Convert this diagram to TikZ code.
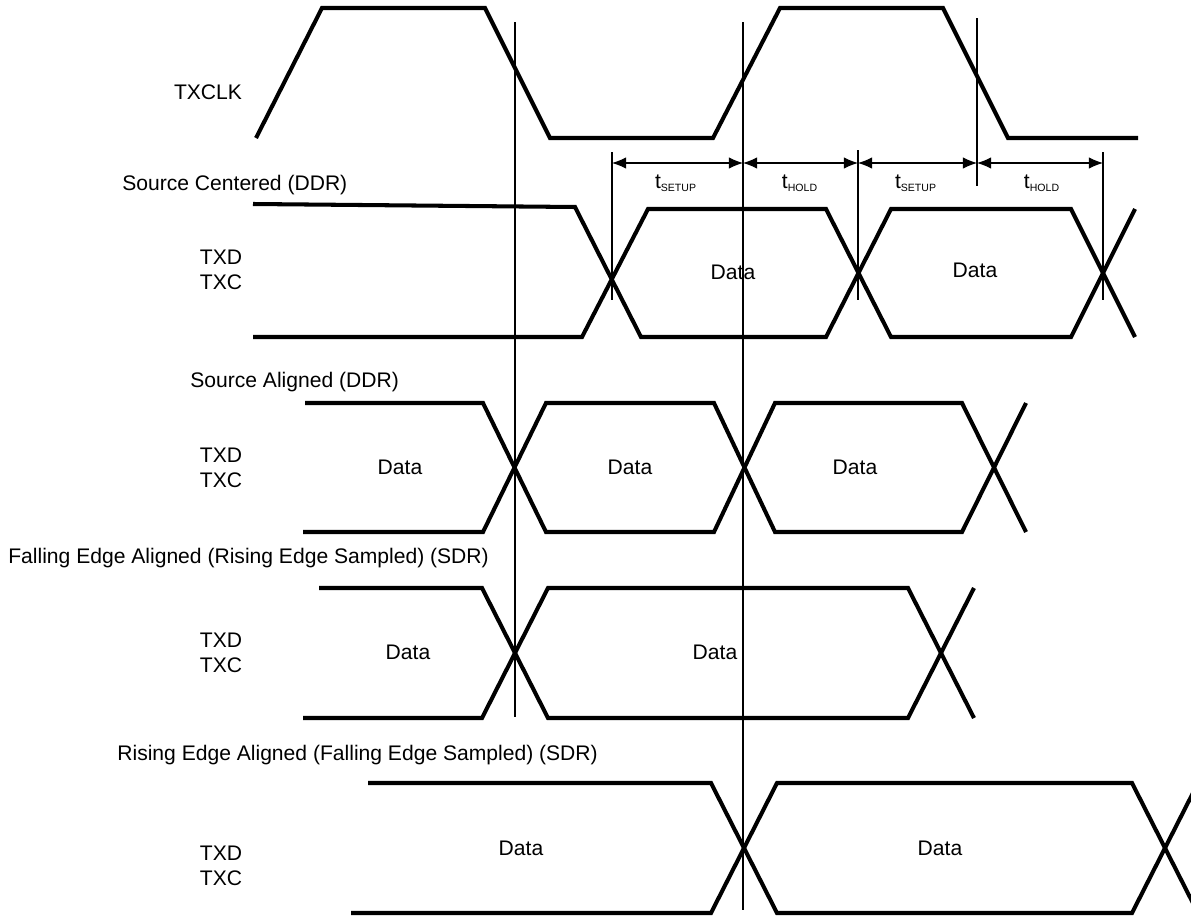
\documentclass[tikz,border=0pt]{standalone}
\usepackage{fontspec}
\setmainfont{Liberation Sans}
\usetikzlibrary{arrows.meta}
\begin{document}
\begin{tikzpicture}[x=0.02cm,y=-0.02cm,>={Latex[length=8pt,width=6.5pt]}]
  \tikzstyle{sig}=[line width=2.3pt, line join=miter]
  \tikzstyle{refline}=[line width=0.6pt]
  \tikzstyle{dim}=[line width=0.6pt, <->]
  \tikzstyle{lbl}=[font=\fontsize{12}{14.5}\selectfont, inner sep=0pt]
  \tikzstyle{signame}=[lbl, align=center]
  \tikzstyle{tlbl}=[lbl, anchor=base]

  \useasboundingbox (0,0) rectangle (1191,916);

  \node[signame] (clk) at (208,92) {TXCLK};
  \draw[sig] (256,138) -- (322,8) -- (485,8) -- (550,138) -- (713,138) -- (780,8) -- (943,8) -- (1008,138) -- (1138,138);

  \coordinate (v1a) at (515,22);
  \coordinate (v1b) at (515,717);
  \coordinate (v2a) at (743,22);
  \coordinate (v2b) at (743,910);
  \coordinate (s1a) at (612,152);
  \coordinate (s1b) at (612,300);
  \coordinate (h1a) at (858,150);
  \coordinate (h1b) at (858,300);
  \coordinate (s2a) at (977,18);
  \coordinate (s2b) at (977,186);
  \coordinate (h2a) at (1103,152);
  \coordinate (h2b) at (1103,300);
  \draw[refline] (v1a) -- (v1b);
  \draw[refline] (v2a) -- (v2b);
  \draw[refline] (s1a) -- (s1b);
  \draw[refline] (h1a) -- (h1b);
  \draw[refline] (s2a) -- (s2b);
  \draw[refline] (h2a) -- (h2b);

  \coordinate (d0) at (612,163);
  \coordinate (d1) at (743,163);
  \coordinate (d2) at (858,163);
  \coordinate (d3) at (977,163);
  \coordinate (d4) at (1103,163);
  \draw[dim] (d0) -- (d1);
  \draw[dim] (d1) -- (d2);
  \draw[dim] (d2) -- (d3);
  \draw[dim] (d3) -- (d4);
  \node[tlbl] (tsu1) at (676,188) {t\textsubscript{\fontsize{6}{7}\selectfont SETUP}};
  \node[tlbl] (th1) at (800,188) {t\textsubscript{\fontsize{6}{7}\selectfont HOLD}};
  \node[tlbl] (tsu2) at (916,188) {t\textsubscript{\fontsize{6}{7}\selectfont SETUP}};
  \node[tlbl] (th2) at (1042,188) {t\textsubscript{\fontsize{6}{7}\selectfont HOLD}};

  \node[lbl, anchor=west] (cen) at (122,185) {Source Centered (DDR)};
  \node[signame] (cenpin) at (221,270) {TXD\\TXC};
  \draw[sig] (253,204) -- (575,207) -- (641,337) -- (826,337) -- (891,209) -- (1071,209) -- (1135,337);
  \draw[sig] (253,337) -- (582,337) -- (648,209) -- (826,209) -- (891,337) -- (1071,337) -- (1135,209);
  \node[lbl] (cen1) at (733,272) {Data};
  \node[lbl] (cen2) at (975,270) {Data};

  \node[lbl, anchor=west] (ali) at (190,382) {Source Aligned (DDR)};
  \node[signame] (alipin) at (221,468) {TXD\\TXC};
  \draw[sig] (305,403) -- (483,403) -- (546,532) -- (714,532) -- (775,403) -- (962,403) -- (1026,532);
  \draw[sig] (303,532) -- (483,532) -- (546,403) -- (714,403) -- (775,532) -- (962,532) -- (1026,403);
  \node[lbl] (ali1) at (400,467) {Data};
  \node[lbl] (ali2) at (630,467) {Data};
  \node[lbl] (ali3) at (855,467) {Data};

  \node[lbl, anchor=west] (fal) at (8,558) {Falling Edge Aligned (Rising Edge Sampled) (SDR)};
  \node[signame] (falpin) at (221,653) {TXD\\TXC};
  \draw[sig] (319,588) -- (482,588) -- (548,718) -- (908,718) -- (974,588);
  \draw[sig] (303,718) -- (482,718) -- (548,588) -- (908,588) -- (974,718);
  \node[lbl] (fal1) at (408,652) {Data};
  \node[lbl] (fal2) at (715,652) {Data};

  \node[lbl, anchor=west] (ris) at (117,755) {Rising Edge Aligned (Falling Edge Sampled) (SDR)};
  \node[signame] (rispin) at (221,866) {TXD\\TXC};
  \draw[sig] (368,783) -- (711,783) -- (777,913) -- (1132,913) -- (1198,783);
  \draw[sig] (351,913) -- (711,913) -- (777,783) -- (1132,783) -- (1198,913);
  \node[lbl] (ris1) at (521,848) {Data};
  \node[lbl] (ris2) at (940,848) {Data};
\end{tikzpicture}
\end{document}
